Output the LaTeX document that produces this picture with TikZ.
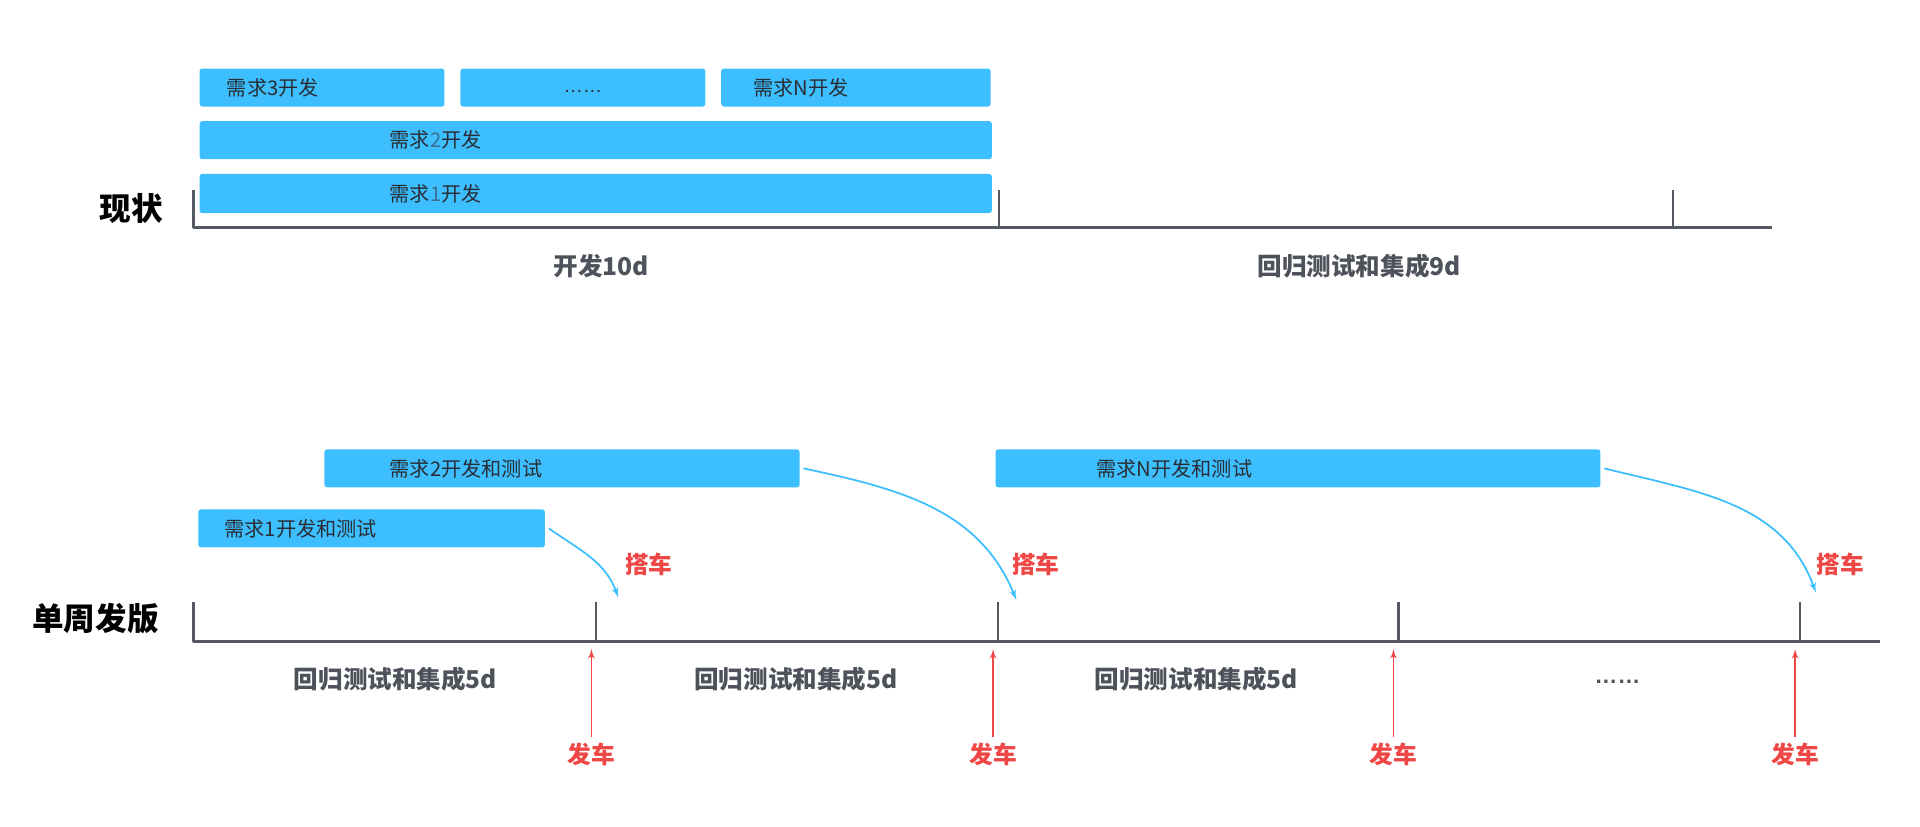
\documentclass[tikz,border=0pt]{standalone}
\usepackage{fontspec}
\setmainfont{Noto Sans CJK SC}
\newfontfamily\latfont{Liberation Sans}
\usetikzlibrary{arrows}
\usetikzlibrary{fit}

\definecolor{boxblue}{HTML}{3CBEFF}
\definecolor{boxtext}{HTML}{2A2D33}
\definecolor{digitcol}{HTML}{3C6E92}
\definecolor{axisgray}{HTML}{555A62}
\definecolor{labelgray}{HTML}{4E535B}
\definecolor{redcol}{HTML}{EF4646}

\begin{document}
\begin{tikzpicture}[x=0.0245cm,y=0.0245cm]
			\tikzset{req/.style = {fill=boxblue, rounded corners=1.5pt, inner sep=0pt}}
			\tikzset{reqtext/.style = {anchor=west, inner sep=0pt, text=boxtext, font=\fontsize{11.5}{13}\selectfont}}
			\tikzset{axisline/.style = {draw=axisgray, line width=1.8pt}}
			\tikzset{tickline/.style = {draw=axisgray, line width=1.3pt}}
			\tikzset{spanlabel/.style = {text=labelgray, font=\bfseries\fontsize{14}{16}\selectfont}}
			\tikzset{rowtitle/.style = {font=\bfseries\fontsize{18}{20}\selectfont}}
			\tikzset{redlabel/.style = {text=redcol, font=\bfseries\fontsize{13.5}{15}\selectfont}}
			\tikzset{ride/.style = {->,> = latex', draw=boxblue, line width=1pt}}
			\tikzset{launch/.style = {->,> = latex', draw=redcol, line width=0.9pt}}
			\useasboundingbox (0,0) rectangle (1568,-675);
			% current: boxes
			\node[req, fit={(163,-56) (363,-87)}] (a3) {};
			\node[req, fit={(376,-56) (576,-87)}] (am) {};
			\node[req, fit={(589,-56) (809,-87)}] (an) {};
			\node[req, fit={(163,-99) (810,-130)}] (a2) {};
			\node[req, fit={(163,-142) (810,-174)}] (a1) {};
			\node[reqtext] at (185,-71.5) {需求3开发};
			\node[text=boxtext, font=\latfont\fontsize{11}{13}\selectfont] at ([yshift=-2pt]am.center) {……};
			\node[reqtext] at (615,-71.5) {需求N开发};
			\node[reqtext] at (318,-114.5) {需求{\color{digitcol}2}开发};
			\node[reqtext] at (318,-158) {需求{\color{digitcol}1}开发};
			% current: axis
			\node[rowtitle] (now) at (107,-170) {现状};
			\coordinate (t0) at (158,-186);
			\coordinate (t1) at (816,-186);
			\coordinate (t2) at (1366,-186);
			\coordinate (tend) at (1447,-186);
			\draw[axisline] (t0) -- (tend);
			\draw[tickline] (t0) -- ++(0,31);
			\draw[tickline] (t1) -- ++(0,31);
			\draw[tickline] (t2) -- ++(0,31);
			\node[spanlabel] (dev) at (491,-217) {开发10d};
			\node[spanlabel] (reg) at (1110,-217) {回归测试和集成9d};
			% weekly: boxes
			\node[req, fit={(265,-367) (653,-398)}] (q2) {};
			\node[req, fit={(813,-367) (1307,-398)}] (qn) {};
			\node[req, fit={(162,-416) (445,-447)}] (q1) {};
			\node[reqtext] at (318,-382.5) {需求2开发和测试};
			\node[reqtext] at (895,-382.5) {需求N开发和测试};
			\node[reqtext] at (183,-431.5) {需求1开发和测试};
			% weekly: axis
			\node[rowtitle] (week) at (78,-505) {单周发版};
			\coordinate (w0) at (158,-524);
			\coordinate (w1) at (487,-524);
			\coordinate (w2) at (815,-524);
			\coordinate (w3) at (1142,-524);
			\coordinate (w4) at (1470,-524);
			\coordinate (wend) at (1535,-524);
			\draw[axisline] (w0) -- (wend);
			\foreach \t in {w0,w1,w2,w3,w4}
				\draw[tickline] (\t) -- ++(0,32);
			\node[spanlabel] (r1) at (323,-555) {回归测试和集成5d};
			\node[spanlabel] (r2) at (650,-555) {回归测试和集成5d};
			\node[spanlabel] (r3) at (977,-555) {回归测试和集成5d};
			\node[text=labelgray, font=\latfont\bfseries\fontsize{13}{15}\selectfont] (rm) at (1321,-557) {……};
			% riding on
			\node[redlabel] (b1) at (530,-461) {搭车};
			\node[redlabel] (b2) at (846,-461) {搭车};
			\node[redlabel] (bn) at (1503,-461) {搭车};
			\coordinate (d1) at (505,-488);
			\coordinate (d2) at (830,-490);
			\coordinate (dn) at (1483,-484);
			\draw[ride] ([xshift=2pt]q1.east) to[out=-35, in=110] (d1);
			\draw[ride] ([xshift=2pt]q2.east) to[out=-12, in=112] (d2);
			\draw[ride] ([xshift=2pt]qn.east) to[out=-14, in=110] (dn);
			% departures
			\foreach \i/\x in {1/483, 2/811, 3/1138, 4/1466} {
				\node[redlabel] (f\i) at (\x,-616) {发车};
				\coordinate (s\i) at (\x,-530);
				\draw[launch] (f\i.north) -- (s\i);
			}
		\end{tikzpicture}
\end{document}
